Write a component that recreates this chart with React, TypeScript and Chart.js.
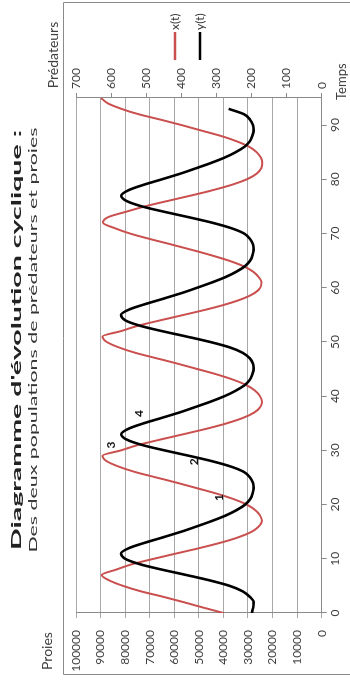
import React, { useEffect, useRef } from "react";
import { Chart, registerables } from "chart.js";

Chart.register(...registerables);

const titleText = "Diagramme d'évolution cyclique :";
const subtitleText = "Des deux populations de prédateurs et proies";
const preyAxisTitle = "Proies";
const predatorAxisTitle = "Prédateurs";
const timeAxisTitle = "Temps";
const preyLabel = "x(t)";
const predatorLabel = "y(t)";

const time = [
  0, 1, 2, 3, 4, 5, 6, 7, 8, 9, 10, 11, 12, 13, 14, 15, 16, 17, 18, 19,
  20, 21, 22, 23, 24, 25, 26, 27, 28, 29, 30, 31, 32, 33, 34, 35, 36, 37, 38, 39,
  40, 41, 42, 43, 44, 45, 46, 47, 48, 49, 50, 51, 52, 53, 54, 55, 56, 57, 58, 59,
  60, 61, 62, 63, 64, 65, 66, 67, 68, 69, 70, 71, 72, 73, 74, 75, 76, 77, 78, 79,
  80, 81, 82, 83, 84, 85, 86, 87, 88, 89, 90, 91, 92, 93, 94, 95,
];

// x(t) : proies
const prey = [
  40000, 48200, 56200, 64600, 73600, 80800, 86400, 89500, 83700, 77200,
  68400, 59000, 49500, 40900, 33700, 28500, 25500, 24300, 25100, 27100,
  30500, 35800, 42600, 50600, 58700, 67300, 75900, 82600, 87500, 89200,
  81700, 74700, 65600, 56100, 46800, 38600, 32000, 27400, 25000, 24300,
  25100, 27100, 30500, 35800, 42600, 50600, 58700, 67300, 75900, 82600,
  87500, 89200, 81700, 74700, 65600, 56100, 46800, 38600, 32000, 27400,
  25000, 24500, 25700, 28000, 32000, 37800, 45000, 53000, 61300, 70000,
  78000, 84300, 89000, 87000, 79800, 72000, 62800, 53300, 44300, 36500,
  30500, 26600, 24700, 24200, 24800, 26500, 29500, 34500, 41000, 49000,
  57000, 65500, 74500, 81500, 87000, 89800,
];

// y(t) : prédateurs
const predators = [
  199, 195, 194, 205, 225, 262, 318, 385, 455, 518,
  560, 572, 548, 502, 450, 400, 355, 312, 273, 242,
  218, 204, 197, 194, 196, 204, 221, 258, 312, 378,
  448, 512, 556, 571, 550, 507, 455, 405, 360, 316,
  277, 245, 220, 205, 198, 194, 196, 205, 225, 262,
  318, 385, 455, 518, 560, 572, 548, 502, 450, 400,
  355, 312, 273, 242, 218, 204, 197, 194, 196, 204,
  221, 258, 312, 378, 448, 512, 556, 571, 550, 507,
  455, 405, 360, 316, 277, 245, 220, 205, 198, 194,
  196, 204, 221, 265,
];

// numbered marks on the y(t) curve
const markLabels = ["1", "2", "3", "4"];
const markTimes = [21.3, 27.9, 31.0, 36.8];
const markValues = [291, 364, 601, 520];

const FONT = "Lato, 'Open Sans', 'Liberation Sans', sans-serif";
const RED = "#c9504e";
const BLACK = "#000000";
const GRID = "#a8a8a8";
const AXIS = "#8a8a8a";
const TEXT = "#404040";

const W = 686;
const H = 350;

function drawStretched(
  ctx: CanvasRenderingContext2D,
  text: string,
  cx: number,
  cy: number,
  font: string,
  color: string,
  targetWidth: number
) {
  ctx.save();
  ctx.font = font;
  ctx.fillStyle = color;
  ctx.textAlign = "center";
  ctx.textBaseline = "middle";
  const w = ctx.measureText(text).width;
  ctx.translate(cx, cy);
  ctx.scale(targetWidth / w, 1);
  ctx.fillText(text, 0, 0);
  ctx.restore();
}

const decorPlugin = {
  id: "decor",
  afterDraw(chart: any) {
    const ctx: CanvasRenderingContext2D = chart.ctx;
    ctx.save();
    ctx.strokeStyle = AXIS;
    ctx.lineWidth = 1;
    ctx.beginPath();
    ctx.moveTo(11.5, H);
    ctx.lineTo(11.5, 63.5);
    ctx.lineTo(683.5, 63.5);
    ctx.lineTo(683.5, H);
    ctx.stroke();
    ctx.restore();

    drawStretched(ctx, titleText, 346, 17, `bold 13px ${FONT}`, "#222", 420);
    drawStretched(ctx, subtitleText, 346, 33, `11px ${FONT}`, "#333", 425);

    ctx.save();
    ctx.fillStyle = TEXT;
    ctx.textBaseline = "middle";
    ctx.font = `14px ${FONT}`;
    ctx.textAlign = "center";
    ctx.fillText(preyAxisTitle, 35, 47);
    ctx.fillText(predatorAxisTitle, 631, 53);
    ctx.font = `13px ${FONT}`;
    ctx.textAlign = "left";
    ctx.fillText(timeAxisTitle, 586, 342);

    const items = [
      { label: preyLabel, color: RED, y: 175 },
      { label: predatorLabel, color: BLACK, y: 200 },
    ];
    ctx.font = `12px ${FONT}`;
    for (const it of items) {
      ctx.strokeStyle = it.color;
      ctx.lineWidth = 2.5;
      ctx.beginPath();
      ctx.moveTo(626, it.y);
      ctx.lineTo(654, it.y);
      ctx.stroke();
      ctx.fillStyle = "#333";
      ctx.fillText(it.label, 656, it.y);
    }

    const xs = chart.scales.x;
    const ys = chart.scales.y1;
    ctx.font = `bold 12px ${FONT}`;
    ctx.textAlign = "center";
    ctx.fillStyle = "#111";
    markLabels.forEach((lab, i) => {
      ctx.fillText(lab, xs.getPixelForValue(markTimes[i]), ys.getPixelForValue(markValues[i]));
    });
    ctx.restore();
  },
};

export default function App() {
  const canvasRef = useRef<HTMLCanvasElement | null>(null);

  useEffect(() => {
    const canvas = canvasRef.current;
    if (!canvas) return;
    const chart = new Chart(canvas, {
      type: "line",
      data: {
        datasets: [
          {
            label: preyLabel,
            data: prey.map((v, i) => ({ x: time[i], y: v })),
            borderColor: RED,
            borderWidth: 2,
            pointRadius: 0,
            cubicInterpolationMode: "monotone",
            yAxisID: "y",
            order: 1,
          },
          {
            label: predatorLabel,
            data: predators.map((v, i) => ({ x: time[i], y: v })),
            borderColor: BLACK,
            borderWidth: 2.6,
            pointRadius: 0,
            cubicInterpolationMode: "monotone",
            yAxisID: "y1",
            order: 0,
          },
        ],
      },
      options: {
        responsive: false,
        animation: false,
        devicePixelRatio: 1,
        layout: { padding: { top: 76, left: 0, right: 0, bottom: 0 } },
        plugins: {
          legend: { display: false },
          tooltip: { enabled: false },
          title: { display: false },
        },
        scales: {
          x: {
            type: "linear",
            position: "bottom",
            min: 0,
            max: 95,
            ticks: {
              stepSize: 10,
              includeBounds: false,
              color: TEXT,
              font: { family: FONT, size: 12 },
              padding: 1,
              maxRotation: 0,
            },
            grid: { drawOnChartArea: false, drawTicks: true, tickLength: 5, color: AXIS },
            border: { color: AXIS },
            afterFit: (s: any) => {
              s.height = 28.3;
            },
          },
          y: {
            type: "linear",
            position: "left",
            min: 0,
            max: 100000,
            ticks: {
              stepSize: 10000,
              color: TEXT,
              font: { family: FONT, size: 12 },
              padding: 12,
              callback: (v: any) => String(v),
            },
            grid: { color: GRID, tickLength: 5 },
            border: { color: AXIS },
            afterFit: (s: any) => {
              s.width = 73;
            },
          },
          y1: {
            type: "linear",
            position: "right",
            min: 0,
            max: 700,
            ticks: {
              stepSize: 100,
              color: TEXT,
              font: { family: FONT, size: 12 },
              padding: 4,
              callback: (v: any) => String(v),
            },
            grid: { drawOnChartArea: false, tickLength: 5, color: AXIS },
            border: { color: AXIS },
            afterFit: (s: any) => {
              s.width = 98;
            },
          },
        },
      } as any,
      plugins: [decorPlugin],
    });
    return () => chart.destroy();
  }, []);

  return (
    <div
      style={{
        position: "fixed",
        left: 0,
        top: 0,
        width: 350,
        height: 686,
        overflow: "hidden",
        background: "#fff",
      }}
    >
      <div
        style={{
          position: "absolute",
          left: 0,
          top: 0,
          width: W,
          height: H,
          transformOrigin: "0 0",
          transform: `translateY(${W}px) rotate(-90deg)`,
        }}
      >
        <canvas ref={canvasRef} width={W} height={H} style={{ width: W, height: H, display: "block" }} />
      </div>
    </div>
  );
}
